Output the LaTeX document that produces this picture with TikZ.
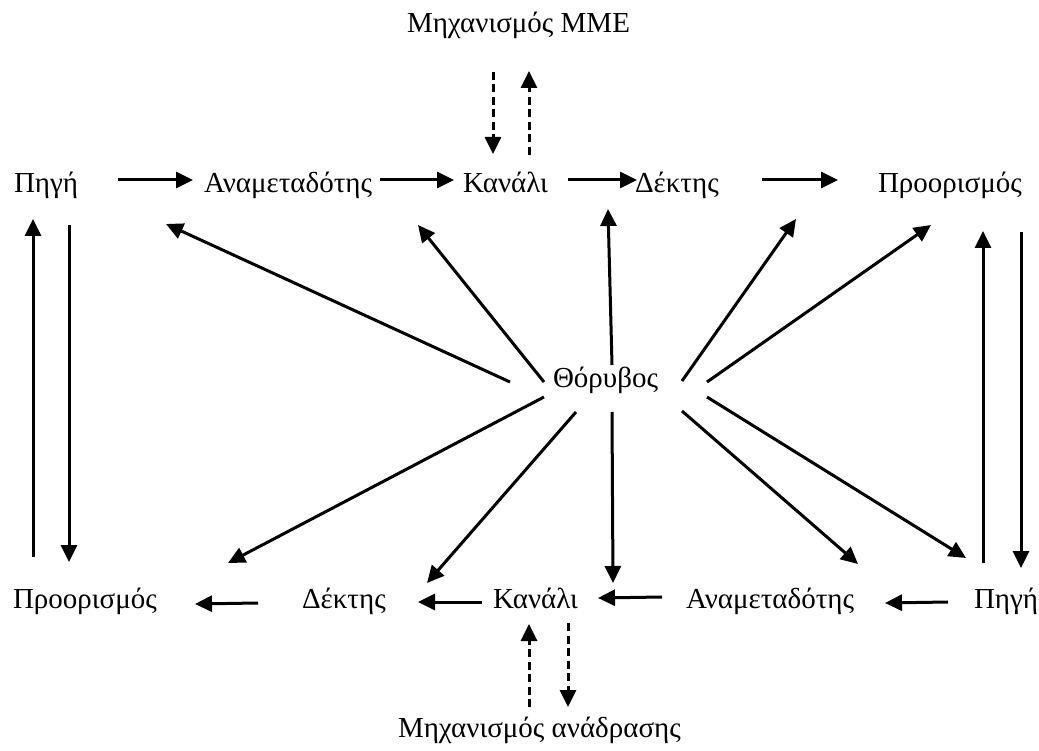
\documentclass[tikz,border=0pt]{standalone}
\usepackage{fontspec}
\setmainfont{Liberation Serif}
\usetikzlibrary{arrows.meta}
\tikzset{
  lbl/.style={inner sep=0pt, outer sep=0pt, font=\fontsize{29}{34}\selectfont, anchor=base west},
  arr/.style={line width=3pt, -{Triangle[length=17pt,width=16pt]}},
  darr/.style={arr, dash pattern=on 8pt off 4.5pt},
}
\begin{document}
\begin{tikzpicture}[x=1pt,y=-1pt]
\useasboundingbox (0,0) rectangle (1039,751);
% texts
\node[lbl] (mme)   at (407,33)  {Μηχανισμός ΜΜΕ};
\node[lbl] (pigiT) at (14,193)  {Πηγή};
\node[lbl] (anaT)  at (204,193) {Αναμεταδότης};
\node[lbl] (kanT)  at (463,193) {Κανάλι};
\node[lbl] (dekT)  at (635,193) {Δέκτης};
\node[lbl] (proT)  at (878,193) {Προορισμός};
\node[lbl] (thor)  at (553,388) {Θόρυβος};
\node[lbl] (proB)  at (13,608)  {Προορισμός};
\node[lbl] (dekB)  at (302,608) {Δέκτης};
\node[lbl] (kanB)  at (493,608) {Κανάλι};
\node[lbl] (anaB)  at (686,608) {Αναμεταδότης};
\node[lbl] (pigiB) at (974,608) {Πηγή};
\node[lbl] (fb)    at (398,737) {Μηχανισμός ανάδρασης};
% connector end points
\coordinate (t1s) at (118,180); \coordinate (t1e) at (193,180);
\coordinate (t2s) at (380,180); \coordinate (t2e) at (454,180);
\coordinate (t3s) at (568,180); \coordinate (t3e) at (637,180);
\coordinate (t4s) at (762,180); \coordinate (t4e) at (838,180);
\coordinate (b1s) at (258,603); \coordinate (b1e) at (195,604);
\coordinate (b2s) at (482,602); \coordinate (b2e) at (418,602);
\coordinate (b3s) at (662,597); \coordinate (b3e) at (598,598);
\coordinate (b4s) at (948,602); \coordinate (b4e) at (885,603);
\coordinate (l1s) at (33,557);   \coordinate (l1e) at (33,219);
\coordinate (l2s) at (69,225);   \coordinate (l2e) at (69,562);
\coordinate (r1s) at (983,563);  \coordinate (r1e) at (983,231);
\coordinate (r2s) at (1021,232); \coordinate (r2e) at (1021,568);
\coordinate (m1s) at (493,72);   \coordinate (m1e) at (493,154);
\coordinate (m2s) at (529,155);  \coordinate (m2e) at (529,71);
\coordinate (f1s) at (529,707);  \coordinate (f1e) at (529,624);
\coordinate (f2s) at (568,623);  \coordinate (f2e) at (568,707);
\coordinate (n1s) at (510,382);  \coordinate (n1e) at (166,224);
\coordinate (n2s) at (544,382);  \coordinate (n2e) at (418,225);
\coordinate (n3s) at (612,365);  \coordinate (n3e) at (608,209);
\coordinate (n4s) at (682,381);  \coordinate (n4e) at (796,219);
\coordinate (n5s) at (707,382);  \coordinate (n5e) at (931,225);
\coordinate (n6s) at (544,397);  \coordinate (n6e) at (228,563);
\coordinate (n7s) at (576,412);  \coordinate (n7e) at (427,583);
\coordinate (n8s) at (612,412);  \coordinate (n8e) at (613,583);
\coordinate (n9s) at (682,411);  \coordinate (n9e) at (858,564);
\coordinate (n10s) at (707,397); \coordinate (n10e) at (966,558);
\foreach \a in {t1,t2,t3,t4,b1,b2,b3,b4,l1,l2,r1,r2,n1,n2,n3,n4,n5,n6,n7,n8,n9,n10}
  \draw[arr] (\a s) -- (\a e);
\foreach \a in {m1,m2,f1,f2}
  \draw[darr] (\a s) -- (\a e);
\end{tikzpicture}
\end{document}
